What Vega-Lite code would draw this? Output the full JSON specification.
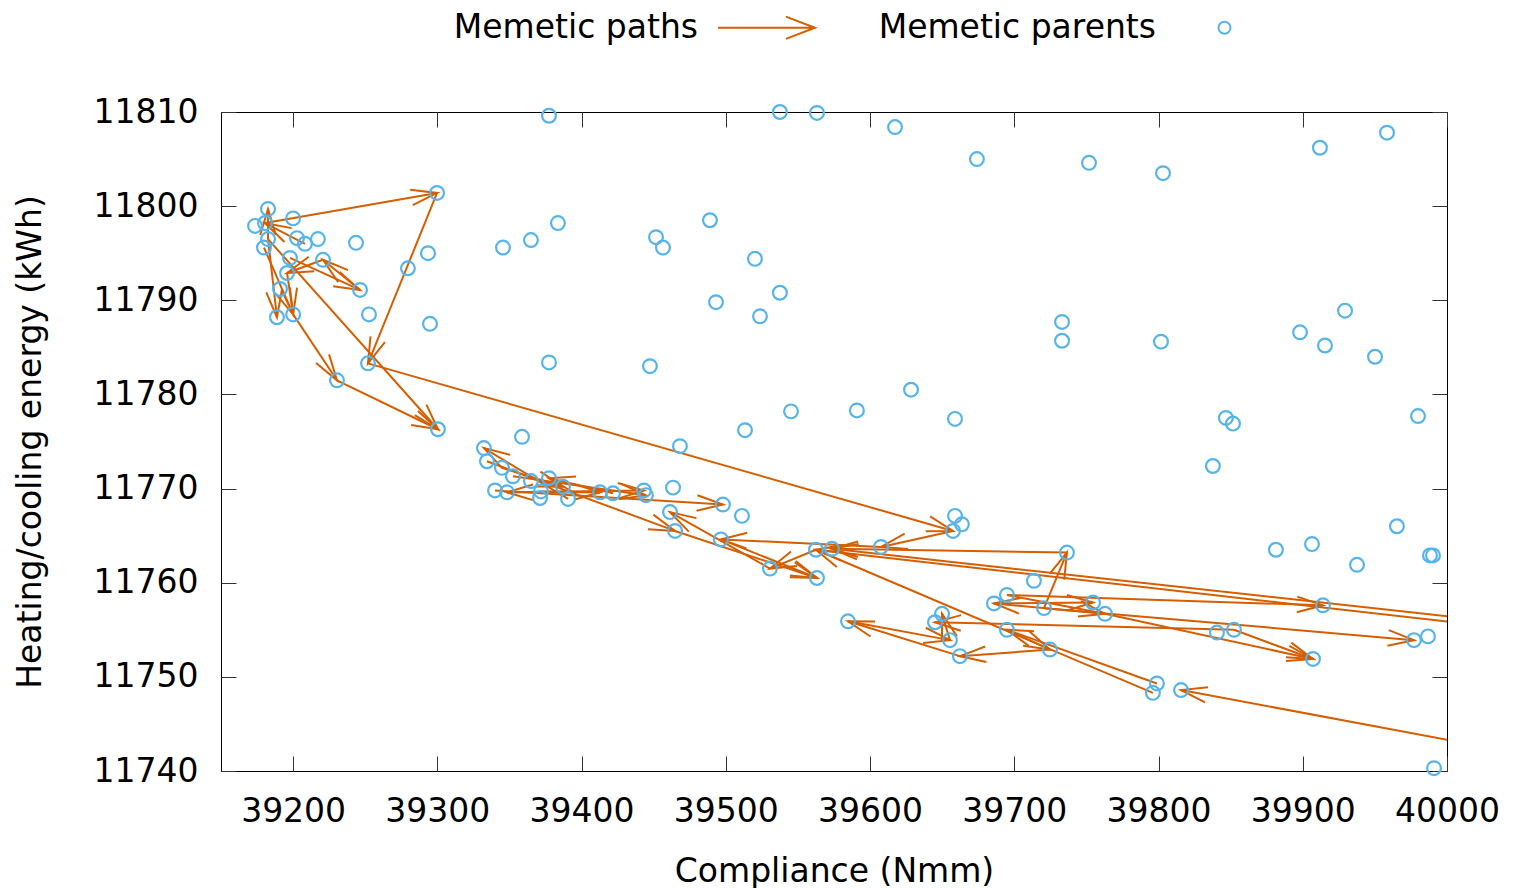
{
  "$schema": "https://vega.github.io/schema/vega-lite/v6.json",
  "width": 1226,
  "height": 659,
  "autosize": {"type": "none"},
  "padding": {"left": 221, "top": 112, "right": 67, "bottom": 117},
  "background": "white",
  "config": {
    "font": "DejaVu Sans",
    "view": {"stroke": "#000000", "strokeWidth": 1},
    "axis": {
      "labelFont": "DejaVu Sans", "labelFontSize": 33, "labelColor": "#000000",
      "titleFont": "DejaVu Sans", "titleFontSize": 33, "titleColor": "#000000", "titleFontWeight": "normal",
      "grid": false, "domain": false, "tickColor": "#333333", "tickSize": -15, "tickWidth": 1,
      "labelFlush": false, "labelOverlap": false
    }
  },
  "datasets": {
    "parents": [
      {"x": 39182.6, "y": 11799.7}, {"x": 39173.6, "y": 11797.9}, {"x": 39180.5, "y": 11798.2},
      {"x": 39182.6, "y": 11796.5}, {"x": 39179.8, "y": 11795.6}, {"x": 39200.0, "y": 11798.7},
      {"x": 39202.7, "y": 11796.6}, {"x": 39208.2, "y": 11796.0}, {"x": 39217.2, "y": 11796.5},
      {"x": 39197.8, "y": 11794.5}, {"x": 39220.7, "y": 11794.3}, {"x": 39195.8, "y": 11792.9},
      {"x": 39190.9, "y": 11791.2}, {"x": 39188.8, "y": 11788.2}, {"x": 39200.0, "y": 11788.5},
      {"x": 39246.4, "y": 11791.1}, {"x": 39243.6, "y": 11796.1}, {"x": 39252.6, "y": 11788.5},
      {"x": 39279.6, "y": 11793.4}, {"x": 39293.5, "y": 11795.0}, {"x": 39294.9, "y": 11787.5},
      {"x": 39299.8, "y": 11801.4}, {"x": 39251.9, "y": 11783.3}, {"x": 39230.4, "y": 11781.5},
      {"x": 39300.4, "y": 11776.3},
      {"x": 39377.4, "y": 11809.6}, {"x": 39537.5, "y": 11810.0}, {"x": 39563.2, "y": 11809.9},
      {"x": 39617.3, "y": 11808.4}, {"x": 39674.1, "y": 11805.0}, {"x": 39751.8, "y": 11804.6},
      {"x": 39803.1, "y": 11803.5}, {"x": 39911.9, "y": 11806.2}, {"x": 39958.4, "y": 11807.8},
      {"x": 39383.6, "y": 11798.2}, {"x": 39489.0, "y": 11798.5}, {"x": 39451.6, "y": 11796.7},
      {"x": 39456.4, "y": 11795.6}, {"x": 39364.9, "y": 11796.4}, {"x": 39345.5, "y": 11795.6},
      {"x": 39520.2, "y": 11794.4}, {"x": 39537.5, "y": 11790.8}, {"x": 39493.2, "y": 11789.8},
      {"x": 39523.7, "y": 11788.3}, {"x": 39377.4, "y": 11783.4}, {"x": 39447.4, "y": 11783.0},
      {"x": 39628.4, "y": 11780.5}, {"x": 39545.2, "y": 11778.2}, {"x": 39590.9, "y": 11778.3},
      {"x": 39513.3, "y": 11776.2}, {"x": 39658.9, "y": 11777.4}, {"x": 39733.1, "y": 11787.7},
      {"x": 39733.1, "y": 11785.7}, {"x": 39801.7, "y": 11785.6}, {"x": 39898.1, "y": 11786.6},
      {"x": 39915.4, "y": 11785.2}, {"x": 39929.3, "y": 11788.9}, {"x": 39950.1, "y": 11784.0},
      {"x": 39846.7, "y": 11777.5}, {"x": 39851.6, "y": 11776.9}, {"x": 39979.9, "y": 11777.7},
      {"x": 39837.7, "y": 11772.4}, {"x": 39468.2, "y": 11774.5}, {"x": 39358.7, "y": 11775.5},
      {"x": 39965.3, "y": 11766.0}, {"x": 39988.2, "y": 11762.9}, {"x": 39990.3, "y": 11762.9},
      {"x": 39937.6, "y": 11761.9}, {"x": 39906.4, "y": 11764.1}, {"x": 39881.4, "y": 11763.5},
      {"x": 39914.0, "y": 11757.6}, {"x": 39907.1, "y": 11751.9}, {"x": 39977.1, "y": 11753.9},
      {"x": 39986.8, "y": 11754.3}, {"x": 39991.0, "y": 11740.3}, {"x": 39840.5, "y": 11754.7},
      {"x": 39852.3, "y": 11755.0}, {"x": 39815.6, "y": 11748.6}, {"x": 39796.1, "y": 11748.3},
      {"x": 39798.9, "y": 11749.3}, {"x": 39762.9, "y": 11756.7}, {"x": 39754.6, "y": 11757.9},
      {"x": 39720.6, "y": 11757.3}, {"x": 39694.9, "y": 11758.7}, {"x": 39685.9, "y": 11757.8},
      {"x": 39713.6, "y": 11760.2}, {"x": 39736.5, "y": 11763.2}, {"x": 39694.9, "y": 11755.0},
      {"x": 39724.7, "y": 11752.9}, {"x": 39662.3, "y": 11752.2}, {"x": 39655.4, "y": 11753.9},
      {"x": 39649.9, "y": 11756.7}, {"x": 39645.0, "y": 11755.8}, {"x": 39584.7, "y": 11755.9},
      {"x": 39658.9, "y": 11767.1}, {"x": 39663.7, "y": 11766.2}, {"x": 39657.5, "y": 11765.5},
      {"x": 39607.6, "y": 11763.8}, {"x": 39573.6, "y": 11763.6}, {"x": 39562.5, "y": 11763.5},
      {"x": 39563.2, "y": 11760.5}, {"x": 39530.6, "y": 11761.5}, {"x": 39511.2, "y": 11767.1},
      {"x": 39496.6, "y": 11764.6}, {"x": 39498.0, "y": 11768.3}, {"x": 39463.4, "y": 11770.1},
      {"x": 39461.3, "y": 11767.5}, {"x": 39464.8, "y": 11765.5}, {"x": 39444.6, "y": 11769.3},
      {"x": 39443.2, "y": 11769.8}, {"x": 39421.8, "y": 11769.5}, {"x": 39412.8, "y": 11769.6},
      {"x": 39390.6, "y": 11768.9}, {"x": 39387.1, "y": 11770.2}, {"x": 39377.4, "y": 11771.1},
      {"x": 39371.9, "y": 11769.7}, {"x": 39371.2, "y": 11769.0}, {"x": 39364.9, "y": 11770.8},
      {"x": 39352.4, "y": 11771.3}, {"x": 39344.8, "y": 11772.2}, {"x": 39334.4, "y": 11772.9},
      {"x": 39332.3, "y": 11774.3}, {"x": 39340.0, "y": 11769.8}, {"x": 39348.3, "y": 11769.6}
    ],
    "paths": [
      {"x": 39180.5, "y": 11798.2, "x2": 39299.8, "y2": 11801.4},
      {"x": 39299.8, "y": 11801.4, "x2": 39251.9, "y2": 11783.3},
      {"x": 39251.9, "y": 11783.3, "x2": 39657.5, "y2": 11765.5},
      {"x": 39197.8, "y": 11794.5, "x2": 39246.4, "y2": 11791.1},
      {"x": 39246.4, "y": 11791.1, "x2": 39220.7, "y2": 11794.3},
      {"x": 39208.2, "y": 11796.0, "x2": 39180.5, "y2": 11798.2},
      {"x": 39182.6, "y": 11796.5, "x2": 39188.8, "y2": 11788.2},
      {"x": 39195.8, "y": 11792.9, "x2": 39200.0, "y2": 11788.5},
      {"x": 39200.0, "y": 11788.5, "x2": 39230.4, "y2": 11781.5},
      {"x": 39230.4, "y": 11781.5, "x2": 39300.4, "y2": 11776.3},
      {"x": 39182.6, "y": 11796.5, "x2": 39300.4, "y2": 11776.3},
      {"x": 39220.7, "y": 11794.3, "x2": 39195.8, "y2": 11792.9},
      {"x": 39182.6, "y": 11796.5, "x2": 39182.6, "y2": 11799.7},
      {"x": 39179.8, "y": 11795.6, "x2": 39200.0, "y2": 11788.5},
      {"x": 39390.6, "y": 11768.9, "x2": 39332.3, "y2": 11774.3},
      {"x": 39334.4, "y": 11772.9, "x2": 39464.8, "y2": 11765.5},
      {"x": 39340.0, "y": 11769.8, "x2": 39498.0, "y2": 11768.3},
      {"x": 39348.3, "y": 11769.6, "x2": 39443.2, "y2": 11769.8},
      {"x": 39421.8, "y": 11769.5, "x2": 39377.4, "y2": 11771.1},
      {"x": 39530.6, "y": 11761.5, "x2": 39461.3, "y2": 11767.5},
      {"x": 39344.8, "y": 11772.2, "x2": 39387.1, "y2": 11770.2},
      {"x": 39412.8, "y": 11769.6, "x2": 39348.3, "y2": 11769.6},
      {"x": 39371.9, "y": 11769.7, "x2": 39412.8, "y2": 11769.6},
      {"x": 39352.4, "y": 11771.3, "x2": 39444.6, "y2": 11769.3},
      {"x": 39607.6, "y": 11763.8, "x2": 39496.6, "y2": 11764.6},
      {"x": 39496.6, "y": 11764.6, "x2": 39563.2, "y2": 11760.5},
      {"x": 39562.5, "y": 11763.5, "x2": 39530.6, "y2": 11761.5},
      {"x": 39464.8, "y": 11765.5, "x2": 39563.2, "y2": 11760.5},
      {"x": 39657.5, "y": 11765.5, "x2": 39607.6, "y2": 11763.8},
      {"x": 39736.5, "y": 11763.2, "x2": 39573.6, "y2": 11763.6},
      {"x": 39720.6, "y": 11757.3, "x2": 39736.5, "y2": 11763.2},
      {"x": 39796.1, "y": 11748.3, "x2": 39562.5, "y2": 11763.5},
      {"x": 40050.0, "y": 11755.6, "x2": 39573.6, "y2": 11763.6},
      {"x": 40050.0, "y": 11755.0, "x2": 39562.5, "y2": 11763.5},
      {"x": 40050.0, "y": 11741.9, "x2": 39815.6, "y2": 11748.6},
      {"x": 39798.9, "y": 11749.3, "x2": 39694.9, "y2": 11755.0},
      {"x": 39694.9, "y": 11755.0, "x2": 39724.7, "y2": 11752.9},
      {"x": 39724.7, "y": 11752.9, "x2": 39662.3, "y2": 11752.2},
      {"x": 39662.3, "y": 11752.2, "x2": 39584.7, "y2": 11755.9},
      {"x": 39584.7, "y": 11755.9, "x2": 39655.4, "y2": 11753.9},
      {"x": 39655.4, "y": 11753.9, "x2": 39649.9, "y2": 11756.7},
      {"x": 39852.3, "y": 11755.0, "x2": 39645.0, "y2": 11755.8},
      {"x": 39694.9, "y": 11758.7, "x2": 39914.0, "y2": 11757.6},
      {"x": 39720.6, "y": 11757.3, "x2": 39977.1, "y2": 11753.9},
      {"x": 39852.3, "y": 11755.0, "x2": 39907.1, "y2": 11751.9},
      {"x": 39762.9, "y": 11756.7, "x2": 39907.1, "y2": 11751.9},
      {"x": 39685.9, "y": 11757.8, "x2": 39754.6, "y2": 11757.9},
      {"x": 39694.9, "y": 11758.7, "x2": 39762.9, "y2": 11756.7},
      {"x": 39762.9, "y": 11756.7, "x2": 39685.9, "y2": 11757.8}
    ]
  },
  "layer": [
    {
      "data": {"name": "paths"},
      "mark": {"type": "rule", "strokeWidth": 2, "clip": true},
      "encoding": {
        "x": {
          "field": "x", "type": "quantitative",
          "scale": {"domain": [39150, 40000], "nice": false, "zero": false},
          "axis": {"orient": "bottom", "values": [39200, 39300, 39400, 39500, 39600, 39700, 39800, 39900, 40000], "format": "d", "title": "Compliance (Nmm)", "labelPadding": 39, "titlePadding": 27}
        },
        "y": {
          "field": "y", "type": "quantitative",
          "scale": {"domain": [11740, 11810], "nice": false, "zero": false},
          "axis": {"orient": "left", "values": [11740, 11750, 11760, 11770, 11780, 11790, 11800, 11810], "format": "d", "title": "Heating/cooling energy (kWh)", "labelPadding": 38, "titlePadding": 46}
        },
        "x2": {"field": "x2"},
        "y2": {"field": "y2"},
        "color": {
          "datum": "Memetic paths", "type": "nominal",
          "scale": {"domain": ["Memetic paths", "Memetic parents"], "range": ["#D55E00", "#56B4E9"]},
          "legend": {
            "orient": "none", "legendX": 529, "legendY": -101, "direction": "horizontal",
            "title": null, "padding": 0,
            "labelFont": "DejaVu Sans", "labelFontSize": 33, "labelColor": "#000000", "labelLimit": 0,
            "labelAlign": "right", "labelOffset": -85, "symbolSize": 144, "symbolStrokeWidth": 2,
            "columnPadding": 59,
            "encode": {
              "symbols": {
                "update": {
                  "shape": {"signal": "datum.value === 'Memetic paths' ? 'M-1,0L1,0M0.4,-0.23L1,0L0.4,0.23' : 'circle'"},
                  "size": {"signal": "datum.value === 'Memetic paths' ? 9409 : 144"},
                  "strokeWidth": {"value": 2},
                  "fill": {"value": "transparent"},
                  "opacity": {"value": 1}
                }
              }
            }
          }
        }
      }
    },
    {
      "data": {"name": "paths"},
      "transform": [
        {"calculate": "atan2(-(datum.y2 - datum.y) * 9.414286, (datum.x2 - datum.x) * 1.442353) * 180 / PI", "as": "angle"}
      ],
      "mark": {"type": "point", "shape": "M-1,-0.3L0,0L-1,0.3", "size": 2700, "filled": false, "strokeWidth": 2, "opacity": 1, "clip": true},
      "encoding": {
        "x": {"field": "x2", "type": "quantitative", "axis": null},
        "y": {"field": "y2", "type": "quantitative", "axis": null},
        "angle": {"field": "angle", "type": "quantitative", "scale": null},
        "color": {"datum": "Memetic paths", "type": "nominal"}
      }
    },
    {
      "data": {"name": "parents"},
      "mark": {"type": "point", "shape": "circle", "size": 190, "filled": false, "strokeWidth": 2.2, "opacity": 1},
      "encoding": {
        "x": {"field": "x", "type": "quantitative", "axis": {"orient": "top", "values": [39200, 39300, 39400, 39500, 39600, 39700, 39800, 39900, 40000], "labels": false, "title": null}},
        "y": {"field": "y", "type": "quantitative", "axis": {"orient": "right", "values": [11740, 11750, 11760, 11770, 11780, 11790, 11800, 11810], "labels": false, "title": null}},
        "color": {"datum": "Memetic parents", "type": "nominal"}
      }
    }
  ]
}
